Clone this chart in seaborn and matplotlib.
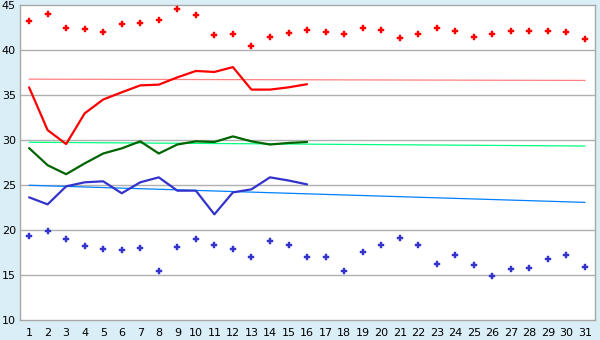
import numpy as np
import pandas as pd
import matplotlib
matplotlib.use("Agg")
import matplotlib.pyplot as plt
import seaborn as sns

days = list(range(1, 32))

max_scatter = [43.2, 44.0, 42.4, 42.3, 42.0, 42.85, 43.0, 43.3, 44.6, 43.85,
               41.63, 41.74, 40.4, 41.5, 41.85, 42.2, 42.0, 41.74, 42.5, 42.2,
               41.3, 41.74, 42.5, 42.07, 41.5, 41.74, 42.07, 42.07, 42.07, 42.0, 41.2]
min_scatter = [19.3, 19.85, 18.97, 18.19, 17.86, 17.74, 17.97, 15.41, 18.08, 18.97,
               18.3, 17.86, 16.97, 18.74, 18.3, 16.97, 16.97, 15.41, 17.52, 18.3,
               19.08, 18.3, 16.19, 17.19, 16.08, 14.85, 15.63, 15.74, 16.74, 17.19, 15.86]

line_days = list(range(1, 17))
red_line = [35.85, 31.1, 29.55, 32.96, 34.5, 35.3, 36.07, 36.15, 36.96, 37.67,
            37.56, 38.1, 35.6, 35.6, 35.85, 36.2]
green_line = [29.1, 27.2, 26.2, 27.4, 28.5, 29.07, 29.85, 28.5, 29.5, 29.85,
              29.78, 30.4, 29.85, 29.5, 29.67, 29.78]
blue_line = [23.63, 22.85, 24.85, 25.3, 25.41, 24.08, 25.3, 25.85, 24.37, 24.37,
             21.74, 24.18, 24.52, 25.85, 25.5, 25.07]

trend_days = [1, 31]
red_trend = [36.76, 36.62]
green_trend = [29.75, 29.33]
blue_trend = [24.97, 23.07]

yticks = [10, 15, 20, 25, 30, 35, 40, 45]

RED = "#ff0000"
RED_T = "#ff8080"
GREEN = "#006400"
GREEN_T = "#00ff80"
BLUE = "#3333cc"
BLUE_T = "#0080ff"
BG = "#d9eef6"

sns.set_style("white")
plt.rcParams['font.family'] = ['DejaVu Sans']

fig = plt.figure(figsize=(6.0, 3.4), dpi=100, facecolor=BG)
ax = fig.add_axes([20/600, 20/340, 575/600, 315/340])
ax.set_facecolor("white")

for y in yticks[1:-1]:
    ax.axhline(y, color="#b0b0b0", lw=1.0, zorder=0)

sns.lineplot(x=trend_days, y=red_trend, ax=ax, color=RED_T, lw=0.9, zorder=2)
sns.lineplot(x=trend_days, y=green_trend, ax=ax, color=GREEN_T, lw=0.9, zorder=2)
sns.lineplot(x=trend_days, y=blue_trend, ax=ax, color=BLUE_T, lw=0.9, zorder=2)

sns.lineplot(x=line_days, y=red_line, ax=ax, color=RED, lw=1.6, zorder=3)
sns.lineplot(x=line_days, y=green_line, ax=ax, color=GREEN, lw=1.6, zorder=3)
sns.lineplot(x=line_days, y=blue_line, ax=ax, color=BLUE, lw=1.6, zorder=3)

sns.scatterplot(x=days, y=max_scatter, ax=ax, color=RED, marker="P", s=16,
                edgecolor=RED, linewidth=0.3, zorder=4)
sns.scatterplot(x=days, y=min_scatter, ax=ax, color=BLUE, marker="P", s=16,
                edgecolor=BLUE, linewidth=0.3, zorder=4)

ax.set_xlim(0.51, 31.54)
ax.set_ylim(10, 45)
ax.set_xticks(days)
ax.set_xticklabels([str(d) for d in days], fontsize=8)
ax.set_yticks(yticks)
ax.set_yticklabels([str(v) for v in yticks], fontsize=8)
ax.tick_params(axis="x", length=4, width=1, color="#444444", pad=2, labelcolor="black")
ax.tick_params(axis="y", length=0, pad=3, labelcolor="black")
for s in ax.spines.values():
    s.set_color("#a8a8a8")
    s.set_linewidth(1.0)
    s.set_visible(True)

fig.savefig("out.png", dpi=100, facecolor=BG)
